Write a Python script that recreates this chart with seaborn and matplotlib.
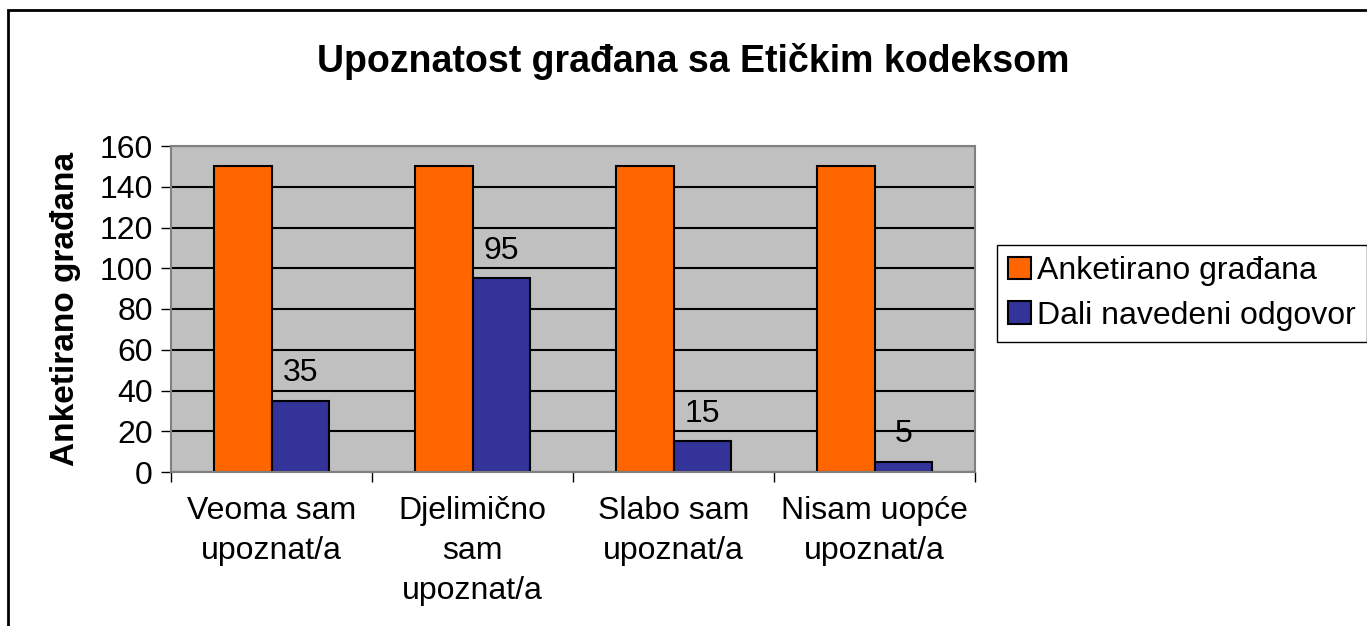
import matplotlib
matplotlib.use("Agg")
import matplotlib.pyplot as plt
from matplotlib.patches import Patch, Rectangle
import pandas as pd
import seaborn as sns

categories = ["Veoma sam\nupoznat/a", "Djelimično\nsam\nupoznat/a",
              "Slabo sam\nupoznat/a", "Nisam uopće\nupoznat/a"]
series = ["Anketirano građana", "Dali navedeni odgovor"]
anketirano = [150, 150, 150, 150]
odgovor = [35, 95, 15, 5]
colors = ["#FF6600", "#333399"]
yticks = [0, 20, 40, 60, 80, 100, 120, 140, 160]

df = pd.DataFrame({
    "kategorija": categories * 2,
    "serija": [series[0]] * 4 + [series[1]] * 4,
    "broj": anketirano + odgovor,
})

sns.set_theme(style="white")
plt.rcParams["font.family"] = ["Liberation Sans", "DejaVu Sans"]
plt.rcParams["text.color"] = "black"
plt.rcParams["axes.labelcolor"] = "black"
plt.rcParams["xtick.color"] = "black"
plt.rcParams["ytick.color"] = "black"

fig = plt.figure(figsize=(13.67, 6.26), dpi=100)
ax = fig.add_axes([171 / 1367, 1 - 472 / 626, 804 / 1367, 326 / 626])
ax.set_facecolor("#C0C0C0")
ax.set_axisbelow(True)

sns.barplot(data=df, x="kategorija", y="broj", hue="serija", palette=colors,
            width=0.577, gap=0, saturation=1, edgecolor="black", linewidth=1.5,
            legend=False, ax=ax)

ax.bar_label(ax.containers[1], padding=9, fontsize=23)

ax.set_xlim(-0.5, 3.5)
ax.set_ylim(0, 160)
ax.set_yticks(yticks)
ax.yaxis.grid(True, color="black", linewidth=1.5)
ax.xaxis.grid(False)

ax.set_xticks(range(len(categories)))
ax.set_xticklabels(categories, fontsize=23, linespacing=1.45)
ax.set_xticks([-0.5, 0.5, 1.5, 2.5, 3.5], minor=True)
ax.tick_params(axis="x", which="major", length=0, pad=17)
ax.tick_params(axis="x", which="minor", length=7, width=1, direction="out", bottom=True)
ax.tick_params(axis="y", length=7, width=1, direction="out", left=True, labelsize=23, pad=6)

for s in ax.spines.values():
    s.set_color("#808080")
    s.set_linewidth(1.5)

ax.set_xlabel("")
ax.set_ylabel("Anketirano građana", fontsize=24, fontweight="bold")
ax.yaxis.set_label_coords(-0.112, 0.5)

fig.suptitle("Upoznatost građana sa Etičkim kodeksom", x=0.507, y=1 - 62 / 626,
             va="center", fontsize=27, fontweight="bold")

handles = [Patch(facecolor=c, edgecolor="black", linewidth=1.5) for c in colors]
leg = ax.legend(handles, series, loc="upper left",
                bbox_to_anchor=(997 / 1367, 1 - 245 / 626), bbox_transform=fig.transFigure,
                fontsize=23, frameon=True, fancybox=False, framealpha=1,
                edgecolor="black", borderaxespad=0, borderpad=0.35,
                handlelength=0.7, handleheight=0.7, handletextpad=0.2,
                labelspacing=0.45)
leg.get_frame().set_linewidth(1)

fig.add_artist(Rectangle((8 / 1367, -0.1), 1.2, 1.1 - 10 / 626, transform=fig.transFigure,
                         fill=False, edgecolor="black", linewidth=2, clip_on=False))

fig.savefig("out.png", dpi=100)
